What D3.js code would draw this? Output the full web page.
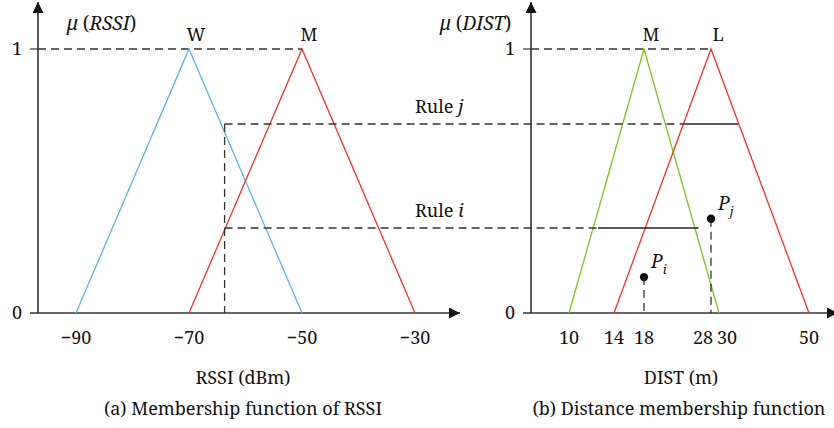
<!DOCTYPE html>
<html>
<head>
<meta charset="utf-8">
<script src="https://cdn.jsdelivr.net/npm/d3@7"></script>
<style>
  body { margin: 0; background: #fff; }
  svg { display: block; }
  svg text { font-family: "Noto Serif", "Liberation Serif", serif; fill: #111; }
</style>
</head>
<body>
<svg id="chart" width="834" height="428"></svg>
<script>
// RSSI membership functions (dBm): [start, peak, end]
const rssiTicks = [-90, -70, -50, -30];
const rssiSets = [
  { name: "W", pts: [-90, -70, -50], color: "#5bb3e0" },
  { name: "M", pts: [-70, -50, -30], color: "#e8342c" }
];
const rssiInput = -63.7;

// distance membership functions (m)
const distTicks = [10, 14, 18, 28, 30, 50];
const distSets = [
  { name: "M", pts: [10, 18, 30], color: "#7ac520" },
  { name: "L", pts: [14, 28, 50], color: "#e8342c" }
];
const distPoints = [
  { name: "i", x: 18, mu: 0.136 },
  { name: "j", x: 28, mu: 0.357 }
];

// firing strengths of the two rules
const rules = [
  { name: "j", mu: 0.716, set: 1 },
  { name: "i", mu: 0.322, set: 0 }
];

const svg = d3.select("#chart");
const axisColor = "#333";
const dashColor = "#333";
const fs = 18;

const y = d3.scaleLinear().domain([0, 1]).range([313, 49]);
const xL = d3.scaleLinear().domain([-90, -30]).range([76, 415]);
// the distance axis is drawn schematically, not to scale
const xR = d3.scaleLinear().domain(distTicks).range([569, 614, 644, 711, 719, 809]);

svg.append("defs").append("marker")
  .attr("id", "arrow")
  .attr("viewBox", "0 0 10 10")
  .attr("refX", 10).attr("refY", 5)
  .attr("markerWidth", 11).attr("markerHeight", 11)
  .attr("markerUnits", "userSpaceOnUse")
  .attr("orient", "auto")
  .append("path")
  .attr("d", "M0,0 L10,5 L0,10 Z")
  .attr("fill", "#111");

function drawAxes(axisX, x0, x1) {
  // y axis
  svg.append("line")
    .attr("x1", axisX).attr("x2", axisX)
    .attr("y1", y(0)).attr("y2", 2)
    .attr("stroke", axisColor).attr("stroke-width", 1.6)
    .attr("marker-end", "url(#arrow)");
  // x axis
  svg.append("line")
    .attr("x1", x0).attr("x2", x1)
    .attr("y1", y(0)).attr("y2", y(0))
    .attr("stroke", axisColor).attr("stroke-width", 1.6)
    .attr("marker-end", "url(#arrow)");
  svg.append("line")
    .attr("x1", x0).attr("x2", axisX)
    .attr("y1", y(1)).attr("y2", y(1))
    .attr("stroke", axisColor).attr("stroke-width", 1.2);
  svg.append("text").attr("x", x0 - 8).attr("y", y(1) + 6)
    .attr("text-anchor", "end").attr("font-size", fs).text("1");
  svg.append("text").attr("x", x0 - 8).attr("y", y(0) + 6)
    .attr("text-anchor", "end").attr("font-size", fs).text("0");
}

function drawSets(x, sets) {
  const line = d3.line().x(d => x(d[0])).y(d => y(d[1]));
  sets.forEach(s => {
    svg.append("path")
      .attr("d", line([[s.pts[0], 0], [s.pts[1], 1], [s.pts[2], 0]]))
      .attr("fill", "none")
      .attr("stroke", s.color)
      .attr("stroke-width", 1.3);
    svg.append("text")
      .attr("x", x(s.pts[1]) + 7).attr("y", y(1) - 8)
      .attr("text-anchor", "middle").attr("font-size", fs)
      .text(s.name);
  });
}

function dashed(x1, y1, x2, y2) {
  svg.append("line")
    .attr("x1", x1).attr("y1", y1).attr("x2", x2).attr("y2", y2)
    .attr("stroke", dashColor).attr("stroke-width", 1.3)
    .attr("stroke-dasharray", "8,5");
}

// ---- left panel: RSSI ----
drawAxes(38, 30, 460);
dashed(38, y(1), xL(rssiSets[1].pts[1]), y(1));
drawSets(xL, rssiSets);

svg.selectAll(".tickL").data(rssiTicks).enter().append("text")
  .attr("x", d => xL(d)).attr("y", 344)
  .attr("text-anchor", "middle").attr("font-size", fs)
  .text(d => d3.format("")(d));

// ---- right panel: distance ----
drawAxes(531, 523, 838);
dashed(531, y(1), xR(distSets[1].pts[1]), y(1));
drawSets(xR, distSets);

const tickShift = { 28: -8, 30: 8 };
svg.selectAll(".tickR").data(distTicks).enter().append("text")
  .attr("x", d => xR(d) + (tickShift[d] || 0)).attr("y", 344)
  .attr("text-anchor", "middle").attr("font-size", fs)
  .text(d => d);

// ---- rules linking the panels ----
function edge(s, mu, side) {
  // x where a triangular set reaches level mu
  return side === 0 ? s.pts[0] + mu * (s.pts[1] - s.pts[0])
                    : s.pts[2] - mu * (s.pts[2] - s.pts[1]);
}
dashed(xL(rssiInput), y(rules[0].mu), xL(rssiInput), y(0));
rules.forEach(r => {
  const s = distSets[r.set];
  const a = xR(edge(s, r.mu, 0)), b = xR(edge(s, r.mu, 1));
  dashed(xL(rssiInput), y(r.mu), a, y(r.mu));
  svg.append("line")
    .attr("x1", a).attr("x2", b).attr("y1", y(r.mu)).attr("y2", y(r.mu))
    .attr("stroke", "#222").attr("stroke-width", 1.3);
  const t = svg.append("text")
    .attr("x", 415).attr("y", y(r.mu) - 11).attr("font-size", fs);
  t.append("tspan").text("Rule ");
  t.append("tspan").attr("font-style", "italic").text(r.name);
});

// measured points
distPoints.forEach(p => {
  dashed(xR(p.x), y(p.mu), xR(p.x), y(0));
  svg.append("circle")
    .attr("cx", xR(p.x)).attr("cy", y(p.mu)).attr("r", 4.2)
    .attr("fill", "#111");
  const t = svg.append("text")
    .attr("x", xR(p.x) + 7).attr("y", y(p.mu) - 9)
    .attr("font-size", 19).attr("font-style", "italic");
  t.append("tspan").text("P");
  t.append("tspan").attr("dy", 6).attr("font-size", 13).text(p.name);
});

// ---- labels ----
function muLabel(x, name) {
  const t = svg.append("text").attr("x", x).attr("y", 30).attr("font-size", 19);
  t.append("tspan").attr("font-style", "italic").text("\u03bc");
  t.append("tspan").text(" (");
  t.append("tspan").attr("font-style", "italic").text(name);
  t.append("tspan").text(")");
}
muLabel(67, "RSSI");
muLabel(440, "DIST");

svg.append("text").attr("x", 243).attr("y", 384)
  .attr("text-anchor", "middle").attr("font-size", fs).text("RSSI (dBm)");
svg.append("text").attr("x", 243).attr("y", 415)
  .attr("text-anchor", "middle").attr("font-size", fs).text("(a) Membership function of RSSI");
svg.append("text").attr("x", 681).attr("y", 384)
  .attr("text-anchor", "middle").attr("font-size", fs).text("DIST (m)");
svg.append("text").attr("x", 679).attr("y", 415)
  .attr("text-anchor", "middle").attr("font-size", fs).text("(b) Distance membership function");
</script>
</body>
</html>
